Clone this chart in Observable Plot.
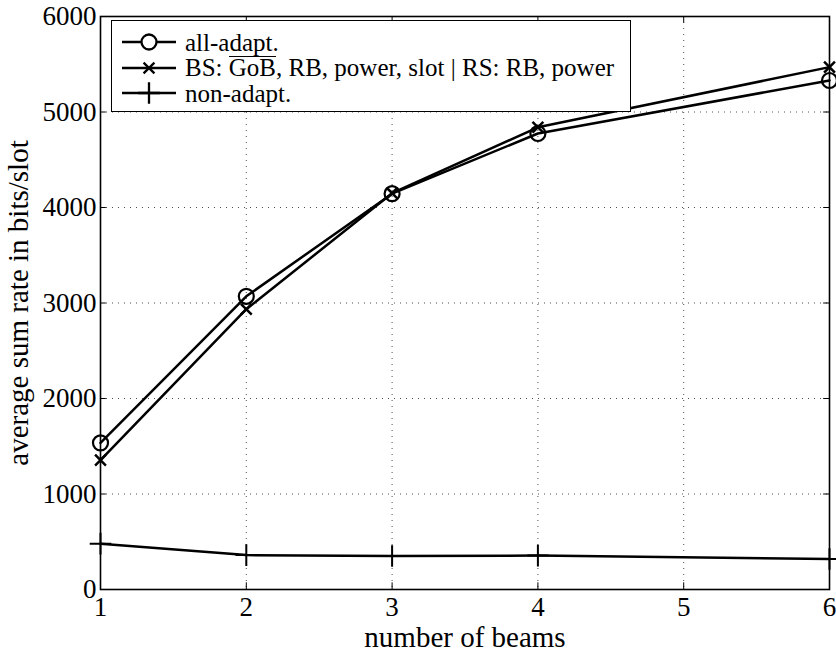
<!DOCTYPE html>
<html>
<head>
<meta charset="utf-8">
<script src="https://cdn.jsdelivr.net/npm/d3@7"></script>
<script src="https://cdn.jsdelivr.net/npm/@observablehq/plot@0.6"></script>
<style>
  html, body { margin: 0; padding: 0; background: white; }
  #wrap { position: relative; width: 836px; height: 654px; }
  #legend {
    position: absolute; left: 111px; top: 20px; width: 520px; height: 92px;
    border: 1.3px solid black; background: white; box-sizing: border-box;
    font-family: "Liberation Serif", "DejaVu Serif", serif; font-size: 25px; color: black;
  }
  .row { position: absolute; left: 0; height: 24px; line-height: 1; display: flex; align-items: center; white-space: nowrap; }
  .row svg { margin-left: 9px; margin-right: 8px; }
  .ol { display: inline-block; line-height: 0.75em; padding-top: 2px; border-top: 1.5px solid black; }
</style>
</head>
<body>
<div id="wrap"></div>
<script>
const beams = [1, 2, 3, 4, 6];
const allAdapt = [1535, 3070, 4145, 4775, 5330];
const bsGoB = [1355, 2935, 4150, 4840, 5470];
const nonAdapt = [480, 360, 350, 355, 320];
const xTicks = [1, 2, 3, 4, 5, 6];
const yTicks = [0, 1000, 2000, 3000, 4000, 5000, 6000];
const seriesNames = ["all-adapt.", "BS: GoB, RB, power, slot | RS: RB, power", "non-adapt."];
const seriesSymbols = ["circle", "times", "plus"];

const seriesValues = [allAdapt, bsGoB, nonAdapt];
const rows = [];
seriesValues.forEach((vals, i) => {
  beams.forEach((b, j) => rows.push({series: seriesNames[i], symbol: seriesSymbols[i], beams: b, rate: vals[j]}));
});

const font = "'Liberation Serif', 'DejaVu Serif', serif";
const chart = Plot.plot({
  width: 836,
  height: 654,
  marginLeft: 100,
  marginRight: 7,
  marginTop: 16,
  marginBottom: 65,
  style: {fontFamily: font, fontSize: "27px", color: "black", background: "white"},
  x: {domain: [1, 6], label: null},
  y: {domain: [0, 6000], label: null},
  marks: [
    Plot.gridX(xTicks, {stroke: "black", strokeOpacity: 0.7, strokeDasharray: "1,5", strokeWidth: 1}),
    Plot.gridY(yTicks, {stroke: "black", strokeOpacity: 0.7, strokeDasharray: "1,5", strokeWidth: 1}),
    Plot.ruleX(xTicks, {y1: 0, y2: 70, stroke: "black", strokeWidth: 1}),
    Plot.ruleX(xTicks, {y1: 6000, y2: 5930, stroke: "black", strokeWidth: 1}),
    Plot.ruleY(yTicks, {x1: 1, x2: 1.04, stroke: "black", strokeWidth: 1}),
    Plot.ruleY(yTicks, {x1: 5.96, x2: 6, stroke: "black", strokeWidth: 1}),
    Plot.frame({stroke: "black", strokeWidth: 1.6}),
    Plot.axisX(xTicks, {tickSize: 0, tickPadding: 7, fontSize: 27, fontFamily: font, tickFormat: d => String(d)}),
    Plot.axisX({tickSize: 0, ticks: [], fontSize: 29, fontFamily: font, label: "number of beams", labelAnchor: "center", labelOffset: 57, labelArrow: "none"}),
    Plot.axisY(yTicks, {tickSize: 0, tickPadding: 4, fontSize: 27, fontFamily: font, tickFormat: d => String(d)}),
    Plot.axisY({tickSize: 0, ticks: [], fontSize: 29, fontFamily: font, label: "average sum rate in bits/slot", labelAnchor: "center", labelOffset: 93, labelArrow: "none"}),
    Plot.line(rows, {x: "beams", y: "rate", z: "series", stroke: "black", strokeWidth: 2.5}),
    Plot.dot(rows.filter(d => d.symbol === "circle"), {x: "beams", y: "rate", symbol: "circle", r: 7.5, stroke: "black", strokeWidth: 2.2, fill: "none"}),
    Plot.dot(rows.filter(d => d.symbol === "times"), {x: "beams", y: "rate", symbol: "times", r: 5, stroke: "black", strokeWidth: 2.5}),
    Plot.dot(rows.filter(d => d.symbol === "plus"), {x: "beams", y: "rate", symbol: "plus", r: 7, stroke: "black", strokeWidth: 2})
  ]
});

const wrap = document.getElementById("wrap");
wrap.appendChild(chart);

// legend
const legend = document.createElement("div");
legend.id = "legend";
const symbolTypes = {circle: d3.symbolCircle, times: d3.symbolTimes, plus: d3.symbolPlus};
const symbolSizes = {circle: Math.PI * 7.5 * 7.5, times: Math.PI * 5 * 5, plus: Math.PI * 7 * 7};
seriesNames.forEach((name, i) => {
  const row = document.createElement("div");
  row.className = "row";
  row.style.top = (9 + i * 25.5) + "px";
  const sym = seriesSymbols[i];
  const path = d3.symbol(symbolTypes[sym], symbolSizes[sym])();
  row.innerHTML = `<svg width="56" height="24"><line x1="1" x2="55" y1="12" y2="12" stroke="black" stroke-width="2.5"/>` +
    `<path transform="translate(28,12)" d="${path}" fill="${sym === 'circle' ? 'white' : 'none'}" stroke="black" stroke-width="2.3"/></svg>`;
  const span = document.createElement("span");
  if (i === 1) {
    span.innerHTML = 'BS: <span class="ol">GoB</span>, RB, power, slot | RS: RB, power';
  } else {
    span.textContent = name;
  }
  row.appendChild(span);
  legend.appendChild(row);
});
wrap.appendChild(legend);
</script>
</body>
</html>
